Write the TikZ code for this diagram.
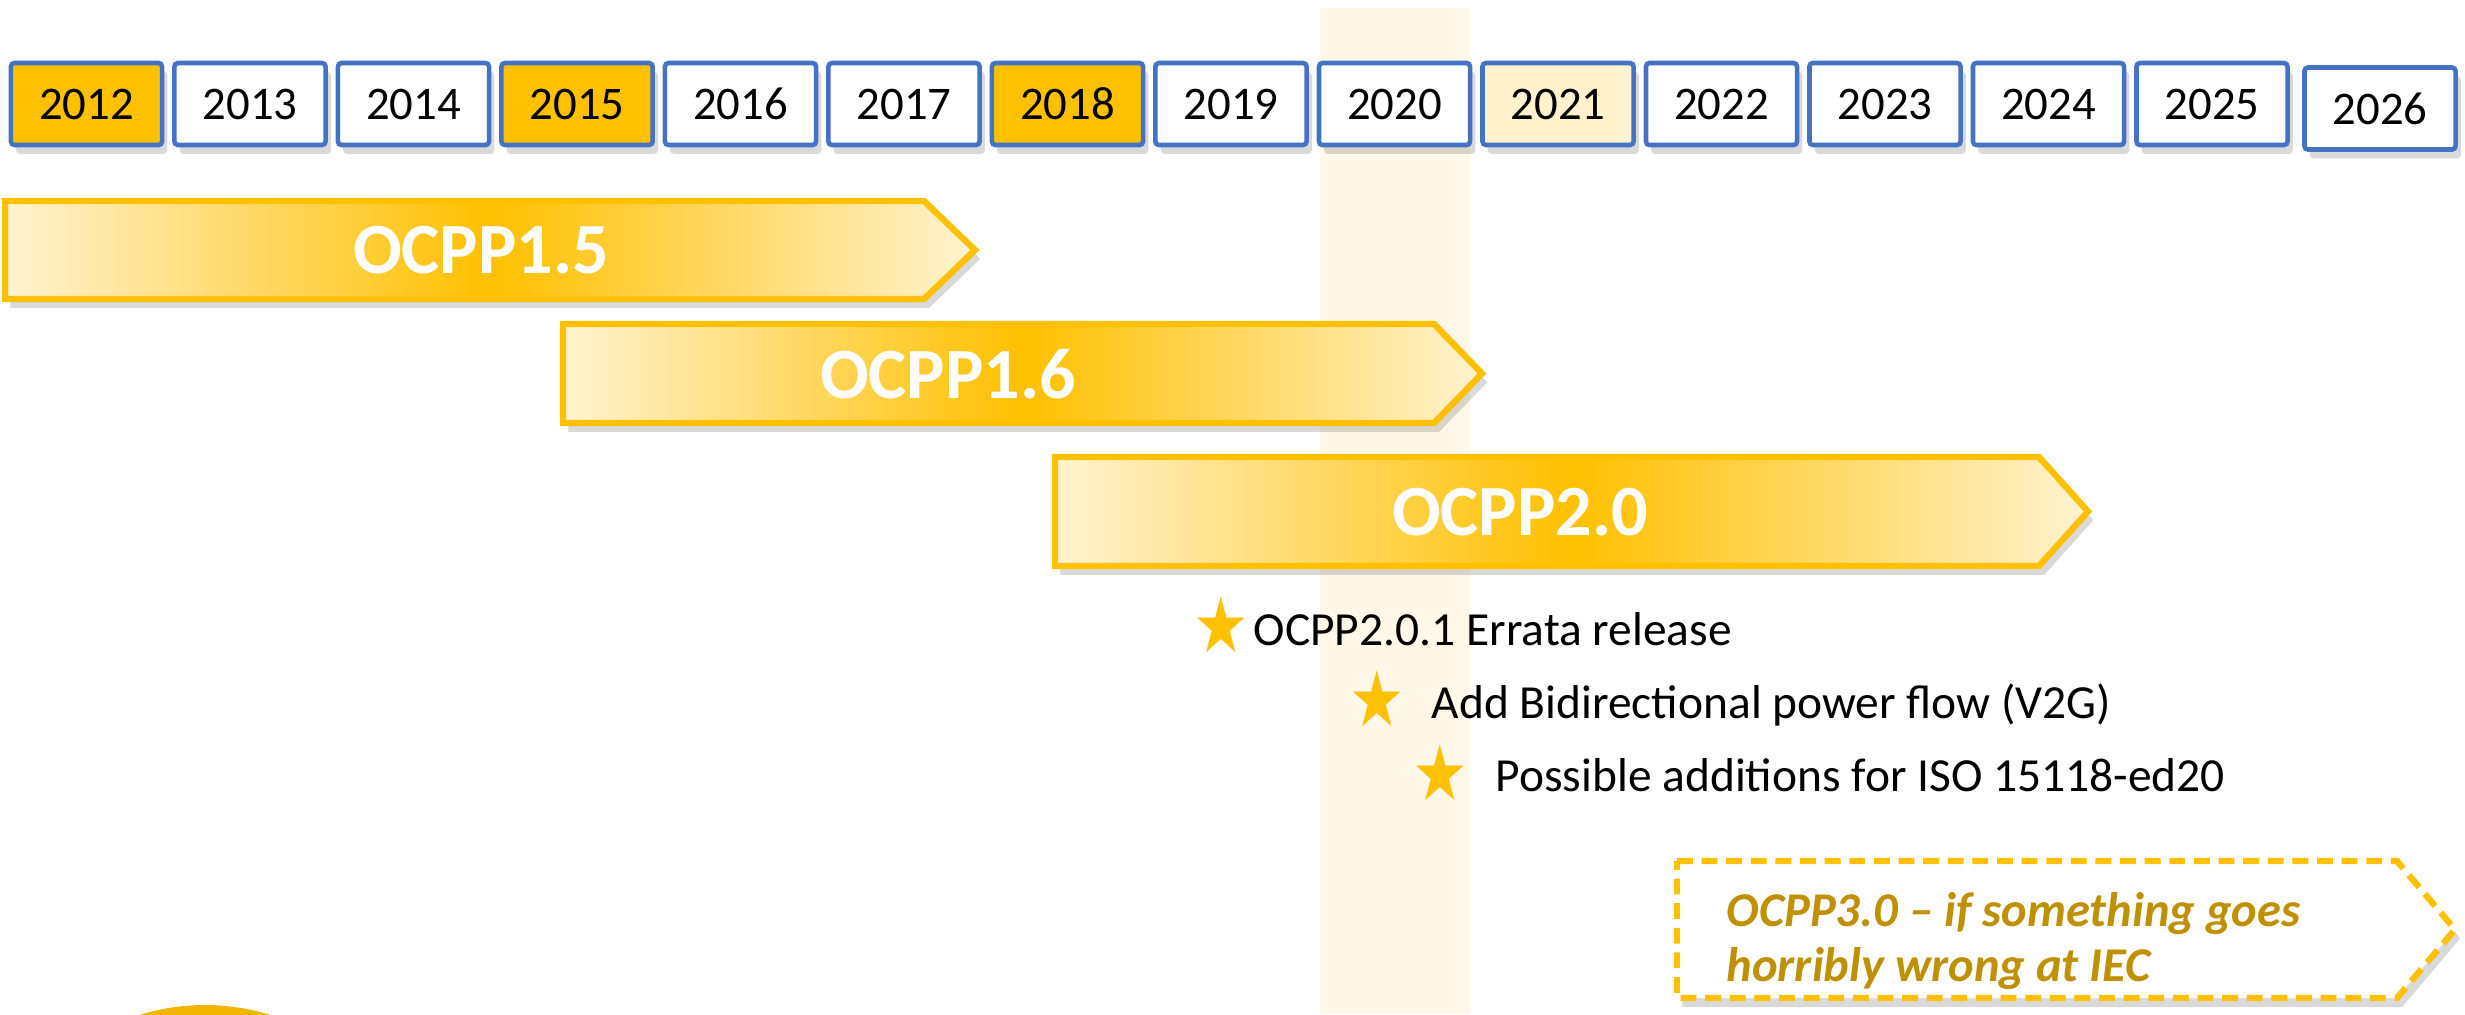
\documentclass[tikz,border=0pt]{standalone}
\usepackage{fontspec}
\setmainfont{Carlito}
\newfontfamily\starfont{DejaVu Sans}
\usetikzlibrary{shadows}
\definecolor{ocppyellow}{HTML}{FFC000}
\definecolor{ocpplight}{HTML}{FFF3D1}
\definecolor{yearblue}{HTML}{4472C4}
\definecolor{paleyear}{HTML}{FFF2CC}
\definecolor{bandcolor}{HTML}{FFF8E8}
\definecolor{futuretext}{HTML}{BF9000}
\newcommand{\itemmark}{\scalebox{0.8}[1]{★}}

\begin{document}
\begin{tikzpicture}[x=0.01cm,y=-0.01cm,
  boxshadow/.style={drop shadow={shadow xshift=1.5pt,shadow yshift=-2.5pt,opacity=.25,fill=black!60}},
  yearbox/.style={draw=yearblue,line width=1.3pt,rounded corners=1pt,boxshadow,
    minimum width=1.51cm,minimum height=0.82cm,inner sep=0pt,
    font=\fontsize{13.3}{15}\selectfont},
  versionarrow/.style={draw=ocppyellow,line width=1.8pt,boxshadow,
    left color=ocpplight,right color=ocpplight,middle color=ocppyellow},
  versionlabel/.style={text=white,font=\fontsize{20.5}{24}\selectfont\bfseries,inner sep=0pt},
  itemtext/.style={anchor=base west,inner sep=0pt,font=\fontsize{13.5}{16}\selectfont},
  itemstar/.style={text=ocppyellow,inner sep=0pt,font=\starfont\fontsize{22}{25}\selectfont}]
   \useasboundingbox (0,0) rectangle (2465,1014);
   % highlight of the current year
   \fill[bandcolor] (1320,8) rectangle (1470,1014);
   % years
   \foreach \yr/\col [count=\i from 0] in {2012/ocppyellow,2013/white,2014/white,
       2015/ocppyellow,2016/white,2017/white,2018/ocppyellow,2019/white,2020/white,
       2021/paleyear,2022/white,2023/white,2024/white,2025/white}
     \node[yearbox,fill=\col] (y\yr) at ({86.5+163.5*\i},104) {\yr};
   \node[yearbox,fill=white] (y2026) at (2380,108.5) {2026};
   % versions
   \path[versionarrow] (5,201) -- (924,201) -- (975,250) -- (924,299) -- (5,299) -- cycle;
   \node[versionlabel] (v15) at (481,250) {OCPP1.5};
   \path[versionarrow] (563,324) -- (1434,324) -- (1482,373.5) -- (1434,423) -- (563,423) -- cycle;
   \node[versionlabel] (v16) at (948,374) {OCPP1.6};
   \path[versionarrow] (1055,457) -- (2039,457) -- (2088,511.5) -- (2039,566) -- (1055,566) -- cycle;
   \node[versionlabel] (v20) at (1520,512) {OCPP2.0};
   % planned changes
   \node[itemstar] (s1) at (1221,625) {\itemmark};
   \node[itemtext] (e1) at (1253,645) {OCPP2.0.1 Errata release};
   \node[itemstar] (s2) at (1377,699) {\itemmark};
   \node[itemtext] (e2) at (1431,718) {Add Bidirectional power flow (V2G)};
   \node[itemstar] (s3) at (1440,773) {\itemmark};
   \node[itemtext] (e3) at (1495,791) {Possible additions for ISO 15118-ed20};
   % the unlikely one
   \path[draw=ocppyellow,fill=white,line width=1.8pt,dash pattern=on 4.5pt off 2.5pt,boxshadow]
     (1677,861) -- (2397,861) -- (2455,929.5) -- (2397,998) -- (1677,998) -- cycle;
   \node[anchor=west,align=left,inner sep=0pt,text=futuretext,
     font=\fontsize{13.8}{15.8}\selectfont\bfseries\itshape] (v30) at (1726,941)
     {OCPP3.0 -- if something goes\\horribly wrong at IEC};
   \begin{scope}
     \clip (0,0) rectangle (2465,1014);
     \fill[ocppyellow!95!black] (205,1223) circle[radius=218];
   \end{scope}
\end{tikzpicture}
\end{document}
